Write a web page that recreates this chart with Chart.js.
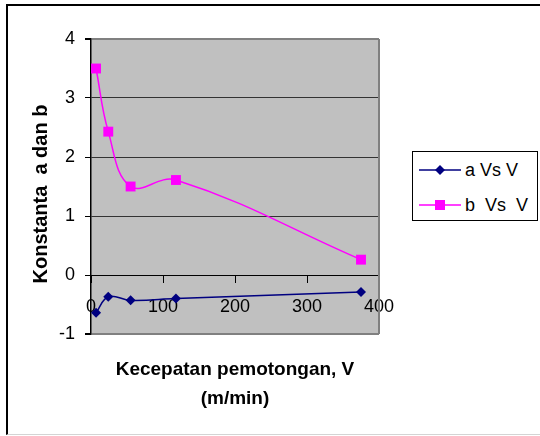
<!DOCTYPE html>
<html>
<head>
<meta charset="utf-8">
<script src="https://cdn.jsdelivr.net/npm/chart.js@4"></script>
<style>
  html, body { margin: 0; padding: 0; background: #fff; }
  #wrap { position: relative; width: 540px; height: 436px; overflow: hidden; font-family: "Liberation Sans", Arial, sans-serif; }
  #frame { position: absolute; left: 6px; top: 4px; width: 560px; height: 428px; border-top: 2px solid #000; border-left: 2px solid #000; border-bottom: 1px solid #d4d4d4; box-sizing: content-box; }
  canvas { position: absolute; left: 0; top: 0; }
  #legend { position: absolute; left: 412px; top: 151px; width: 124px; height: 68px; border: 1px solid #000; background: #fff; }
  .item { position: absolute; left: 6px; height: 24px; display: flex; align-items: center; font-size: 18px; white-space: pre; color: #000; }
  .item svg { margin-right: 4px; }
</style>
</head>
<body>
<div id="wrap">
  <div id="frame"></div>
  <canvas id="c" width="540" height="436"></canvas>
  <div id="legend">
    <div class="item" style="top:6px;"><svg width="42" height="14"><line x1="0" y1="7" x2="42" y2="7" stroke="#000080" stroke-width="1.5"/><polygon points="21,2 26,7 21,12 16,7" fill="#000080"/></svg>a Vs V</div>
    <div class="item" style="top:41px;"><svg width="42" height="14"><line x1="0" y1="7" x2="42" y2="7" stroke="#FF00FF" stroke-width="1.5"/><rect x="16" y="2" width="10" height="10" fill="#FF00FF"/></svg>b  Vs  V</div>
  </div>
</div>
<script>
const speedV = [7, 24, 55, 118, 375];
const constA = [-0.64, -0.37, -0.43, -0.40, -0.29];
const constB = [3.5, 2.43, 1.5, 1.61, 0.26];
const seriesNames = ['a Vs V', 'b  Vs  V'];
const xTicks = [0, 100, 200, 300, 400];
const yTicks = [-1, 0, 1, 2, 3, 4];
const xTitle = ['Kecepatan pemotongan, V', '(m/min)'];
const yTitle = 'Konstanta  a dan b';

const FONT = '"Liberation Sans", Arial, sans-serif';

const plotBg = {
  id: 'plotBg',
  beforeDraw(chart) {
    const {ctx, chartArea: a} = chart;
    ctx.save();
    ctx.fillStyle = '#C0C0C0';
    ctx.fillRect(a.left, a.top, a.right - a.left, a.bottom - a.top);
    ctx.restore();
  },
  afterDraw(chart) {
    const {ctx, chartArea: a} = chart;
    ctx.save();
    ctx.strokeStyle = '#808080';
    ctx.lineWidth = 2;
    ctx.beginPath();
    ctx.moveTo(a.right, a.top);
    ctx.lineTo(a.right, a.bottom);
    ctx.stroke();
    ctx.fillStyle = '#000';
    ctx.textAlign = 'center';
    ctx.textBaseline = 'middle';
    const cx = (a.left + a.right) / 2;
    ctx.font = 'bold 19px ' + FONT;
    ctx.fillText(xTitle[0], cx, 370);
    ctx.fillText(xTitle[1], cx, 399);
    ctx.translate(41, 194);
    ctx.rotate(-Math.PI / 2);
    ctx.font = 'bold 20px ' + FONT;
    ctx.fillText(yTitle, 0, 0);
    ctx.restore();
  }
};

const mk = (ys) => speedV.map((v, i) => ({x: v, y: ys[i]}));

new Chart(document.getElementById('c'), {
  type: 'line',
  data: {
    datasets: [
      {
        label: seriesNames[0],
        data: mk(constA),
        borderColor: '#000080',
        backgroundColor: '#000080',
        borderWidth: 1.5,
        pointStyle: 'rectRot',
        pointRadius: 5,
        pointBorderWidth: 0,
        tension: 0.4,
        fill: false
      },
      {
        label: seriesNames[1],
        data: mk(constB),
        borderColor: '#FF00FF',
        backgroundColor: '#FF00FF',
        borderWidth: 1.5,
        pointStyle: 'rect',
        pointRadius: 7,
        pointBorderWidth: 0,
        tension: 0.4,
        fill: false
      }
    ]
  },
  options: {
    responsive: false,
    animation: false,
    events: [],
    layout: { padding: { left: 0, top: 39, right: 161, bottom: 102 } },
    plugins: { legend: { display: false }, tooltip: { enabled: false } },
    scales: {
      x: {
        type: 'linear',
        position: { y: 0 },
        min: 0, max: 400,
        afterBuildTicks(s) { s.ticks = xTicks.map(v => ({value: v})); },
        grid: { drawOnChartArea: false, drawTicks: true, tickLength: 7, tickColor: '#000', color: '#000' },
        border: { display: true, color: '#000', width: 1 },
        ticks: { color: '#000', font: { family: FONT, size: 18 }, padding: 14, maxRotation: 0, autoSkip: false }
      },
      y: {
        type: 'linear',
        min: -1, max: 4,
        afterFit(s) { s.width = 91; },
        afterBuildTicks(s) { s.ticks = yTicks.map(v => ({value: v})); },
        grid: {
          drawOnChartArea: true,
          drawTicks: true,
          tickLength: 6,
          tickColor: '#000',
          color: (c) => {
            const v = c.tick && c.tick.value;
            if (v === 0) return 'rgba(0,0,0,0)';
            if (v === 4 || v === -1) return '#808080';
            return '#333333';
          },
          lineWidth: (c) => {
            const v = c.tick && c.tick.value;
            if (v === 4 || v === -1) return 2;
            return 1;
          }
        },
        border: { display: true, color: '#000', width: 1.5 },
        ticks: { color: '#000', font: { family: FONT, size: 18 }, padding: 10 }
      }
    }
  },
  plugins: [plotBg]
});
</script>
</body>
</html>
